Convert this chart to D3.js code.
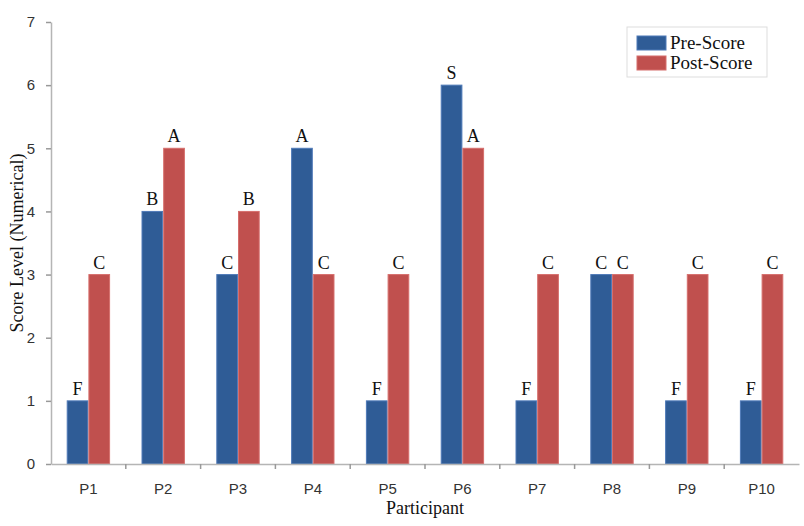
<!DOCTYPE html>
<html>
<head>
<meta charset="utf-8">
<script src="https://cdn.jsdelivr.net/npm/d3@7"></script>
<style>
  body { margin: 0; background: #fff; }
  svg { display: block; }
</style>
</head>
<body>
<div id="chart"></div>
<script>
// data
var participants = ["P1", "P2", "P3", "P4", "P5", "P6", "P7", "P8", "P9", "P10"];
var preScores = [1, 4, 3, 5, 1, 6, 1, 3, 1, 1];
var postScores = [3, 5, 4, 3, 3, 5, 3, 3, 3, 3];
var preGrades = ["F", "B", "C", "A", "F", "S", "F", "C", "F", "F"];
var postGrades = ["C", "A", "B", "C", "C", "A", "C", "C", "C", "C"];
var seriesNames = ["Pre-Score", "Post-Score"];
var yTicks = [0, 1, 2, 3, 4, 5, 6, 7];

var width = 804, height = 526;
var margin = { top: 22, right: 5, bottom: 62, left: 51 };
var colors = ["#2F5C96", "#C0504E"];
var strokes = ["#4F7AB8", "#D66E6C"];
var serif = "'Liberation Serif', 'Times New Roman', serif";
var sans = "'Liberation Sans', Arial, sans-serif";

var svg = d3.select("#chart").append("svg")
  .attr("width", width)
  .attr("height", height);

var x = d3.scaleBand()
  .domain(participants)
  .range([margin.left, width - margin.right])
  .paddingInner(0)
  .paddingOuter(0);

var inner = d3.scaleBand()
  .domain(seriesNames)
  .range([x.bandwidth() * 0.21, x.bandwidth() * 0.79]);

var y = d3.scaleLinear()
  .domain([0, 7])
  .range([height - margin.bottom, margin.top]);

var rows = participants.map(function (p, i) {
  return {
    name: p,
    vals: [
      { s: 0, v: preScores[i], g: preGrades[i] },
      { s: 1, v: postScores[i], g: postGrades[i] }
    ]
  };
});

var groups = svg.append("g").selectAll("g")
  .data(rows)
  .enter().append("g")
  .attr("transform", function (d) { return "translate(" + x(d.name) + ",0)"; });

groups.selectAll("rect")
  .data(function (d) { return d.vals; })
  .enter().append("rect")
  .attr("x", function (d) { return inner(seriesNames[d.s]) + 0.5; })
  .attr("y", function (d) { return y(d.v); })
  .attr("width", inner.bandwidth() - 1)
  .attr("height", function (d) { return y(0) - y(d.v); })
  .attr("fill", function (d) { return colors[d.s]; })
  .attr("stroke", function (d) { return strokes[d.s]; })
  .attr("stroke-width", 1);

groups.selectAll("text")
  .data(function (d) { return d.vals; })
  .enter().append("text")
  .attr("x", function (d) { return inner(seriesNames[d.s]) + inner.bandwidth() / 2; })
  .attr("y", function (d) { return y(d.v) - 6; })
  .attr("text-anchor", "middle")
  .style("font-family", serif)
  .style("font-size", "18px")
  .attr("fill", "#111")
  .text(function (d) { return d.g; });

// axes
var xAxis = svg.append("g")
  .attr("transform", "translate(0," + y(0) + ")")
  .call(d3.axisBottom(x).tickSize(0).tickSizeOuter(0));
xAxis.select(".domain").attr("stroke", "#b5b5b5").attr("stroke-width", 1.5);
xAxis.selectAll(".tick text")
  .attr("dy", "1.8em")
  .style("font-family", sans)
  .style("font-size", "15px")
  .attr("fill", "#333");

// category separators on the x axis
svg.append("g").selectAll("line")
  .data(participants.slice(1))
  .enter().append("line")
  .attr("x1", function (d) { return x(d); })
  .attr("x2", function (d) { return x(d); })
  .attr("y1", y(0))
  .attr("y2", y(0) + 5)
  .attr("stroke", "#999")
  .attr("stroke-width", 1.5);

var yAxis = svg.append("g")
  .attr("transform", "translate(" + margin.left + ",0)")
  .call(d3.axisLeft(y).tickValues(yTicks).tickFormat(d3.format("d"))
    .tickSize(5).tickSizeOuter(0).tickPadding(11));
yAxis.select(".domain").attr("stroke", "#b5b5b5").attr("stroke-width", 1.5);
yAxis.selectAll(".tick line").attr("stroke", "#999").attr("stroke-width", 1.5);
yAxis.selectAll(".tick text")
  .style("font-family", sans)
  .style("font-size", "15px")
  .attr("fill", "#333");

// axis titles
svg.append("text")
  .attr("x", (margin.left + width - margin.right) / 2)
  .attr("y", 514)
  .attr("text-anchor", "middle")
  .style("font-family", serif)
  .style("font-size", "18px")
  .attr("fill", "#111")
  .text("Participant");

svg.append("text")
  .attr("transform", "translate(23," + (y(3.5)) + ") rotate(-90)")
  .attr("text-anchor", "middle")
  .style("font-family", serif)
  .style("font-size", "18px")
  .attr("fill", "#111")
  .text("Score Level (Numerical)");

// legend
var legend = svg.append("g").attr("transform", "translate(627,27)");
legend.append("rect")
  .attr("width", 140)
  .attr("height", 50)
  .attr("fill", "#fff")
  .attr("stroke", "#ddd")
  .attr("stroke-width", 1);
seriesNames.forEach(function (name, i) {
  legend.append("rect")
    .attr("x", 10)
    .attr("y", 9 + i * 20)
    .attr("width", 29)
    .attr("height", 14)
    .attr("fill", colors[i])
    .attr("stroke", strokes[i]);
  legend.append("text")
    .attr("x", 43)
    .attr("y", 22 + i * 20)
    .style("font-family", serif)
    .style("font-size", "19px")
    .attr("fill", "#111")
    .text(name);
});
</script>
</body>
</html>
